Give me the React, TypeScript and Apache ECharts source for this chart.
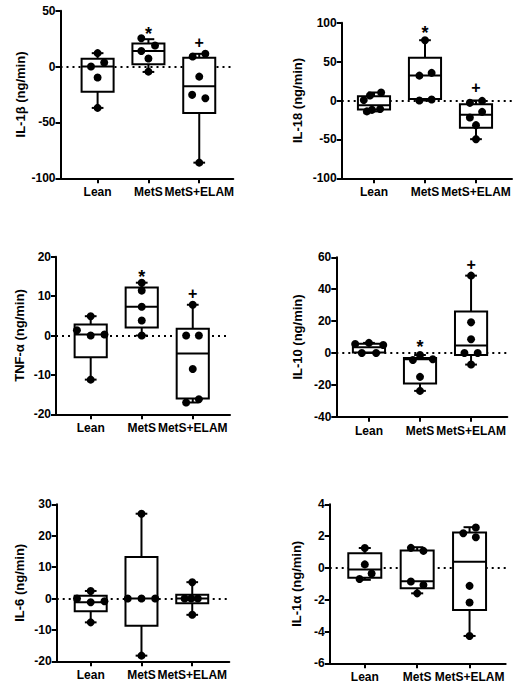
import React, { useEffect, useRef } from "react";
import * as echarts from "echarts";

const categories = ["Lean", "MetS", "MetS+ELAM"];

// box statistics: [group, min, Q1, median, Q3, max]
const il1bBox = [[0, -37, -22.5, 0, 7, 12], [1, -4.8, 2.1, 14, 20.6, 24.5], [2, -86, -41.5, -17.6, 8, 11.4]];
const il18Box = [[0, -14, -11.6, -6, 5.5, 10.3], [1, 0, 2, 32, 55, 77.5], [2, -49.7, -35, -18.3, -4.7, 0]];
const tnfBox = [[0, -11.2, -5.5, 0.25, 2.8, 4.9], [1, 0, 2, 7.3, 12.2, 13.4], [2, -17, -16, -4.6, 1.7, 7.8]];
const il10Box = [[0, 0, 0.3, 3.6, 5.8, 6.3], [1, -23.8, -19.2, -4, -3.1, -1.3], [2, -7.3, -1.3, 4.6, 26, 48.5]];
const il6Box = [[0, -7.6, -4.1, -1.2, 0.85, 2.4], [1, -18.2, -8.7, 0, 13.2, 27], [2, -5.2, -1.5, 0, 1.2, 5.2]];
const il1aBox = [[0, -0.75, -0.62, -0.1, 0.92, 1.25], [1, -1.6, -1.28, -0.84, 1.09, 1.3], [2, -4.28, -2.65, 0.38, 2.22, 2.56]];

// individual points: [group, value, jitter]
const il1bPts = [
  [0, 12, 0], [0, 3.6, 0.13], [0, 0, -0.13], [0, -9.8, 0], [0, -37, 0],
  [1, 25.4, -0.14], [1, 18.8, 0.13], [1, 14, -0.14], [1, 7.2, 0], [1, -4.5, 0],
  [2, 9, -0.13], [2, 11.4, 0.12], [2, -9, 0], [2, -25.3, -0.14], [2, -28.3, 0.12], [2, -86, 0],
];
const il18Pts = [
  [0, 10.3, 0.14], [0, 6.5, -0.08], [0, 0.5, -0.2], [0, -11, 0.12], [0, -12, -0.04], [0, -14, -0.14],
  [1, 77.5, 0], [1, 35.5, 0.13], [1, 32, -0.11], [1, 1.3, 0.13], [1, 0, -0.11],
  [2, -0.5, 0.12], [2, -3, -0.12], [2, -14.6, 0.12], [2, -21.9, -0.12], [2, -31.7, 0], [2, -49.7, 0],
];
const tnfPts = [
  [0, 4.9, 0], [0, 1.35, -0.27], [0, 0, 0], [0, 0.25, 0.27], [0, -11.2, 0],
  [1, 13.4, 0], [1, 11.4, 0], [1, 7.3, 0], [1, 3.8, 0], [1, 0, 0],
  [2, 7.8, 0], [2, 0, -0.13], [2, 0, 0.12], [2, -8.5, 0], [2, -17, -0.13], [2, -16.2, 0.12],
];
const il10Pts = [
  [0, 5.6, -0.27], [0, 6.3, 0], [0, 5, 0.28], [0, 0, -0.14], [0, 0, 0.14],
  [1, -1.3, 0], [1, -4.4, -0.14], [1, -4, 0.25], [1, -15, 0], [1, -23.8, 0],
  [2, 48.5, 0], [2, 19.2, 0], [2, 8.6, 0], [2, 0, -0.13], [2, 0, 0.13], [2, -7.3, 0],
];
const il6Pts = [
  [0, 2.4, 0], [0, 0, -0.27], [0, -1.2, 0], [0, -0.85, 0.27], [0, -7.6, 0],
  [1, 27, 0], [1, 0, -0.27], [1, 0, 0], [1, 0, 0.27], [1, -18.2, 0],
  [2, 5.2, 0], [2, 0, -0.15], [2, 0, -0.02], [2, 0, 0.11], [2, -5.2, 0],
];
const il1aPts = [
  [0, 1.25, 0], [0, 0.22, 0], [0, -0.35, 0.13], [0, -0.7, -0.1],
  [1, 1.26, -0.12], [1, 1.07, 0.12], [1, -0.86, -0.12], [1, -1.07, 0.12], [1, -1.6, 0],
  [2, 2.18, -0.12], [2, 2.54, 0.12], [2, 1.93, 0.12], [2, -1.13, 0], [2, -2.18, 0], [2, -4.28, 0],
];

// significance markers: [group, value at glyph centre, symbol]
const il1bSig = [[1, 33, "*"], [2, 21.5, "+"]];
const il18Sig = [[1, 92.5, "*"], [2, 16.7, "+"]];
const tnfSig = [[1, 15.9, "*"], [2, 10.7, "+"]];
const il10Sig = [[1, 6.7, "*"], [2, 55.6, "+"]];
const il6Sig: any[] = [];
const il1aSig: any[] = [];

const yTitles = ["IL-1β (ng/min)", "IL-18 (ng/min)", "TNF-α (ng/min)", "IL-10 (ng/min)", "IL-6 (ng/min)", "IL-1α (ng/min)"];
const yRanges = [[-100, 50, 50], [-100, 100, 50], [-20, 20, 10], [-40, 60, 20], [-20, 30, 10], [-6, 4, 2]];

// layout (pixels) and x-extent per panel
const layouts = [
  { left: 60.5, top: 10.7, width: 172.8, height: 167.6, xMin: -0.73, xMax: 2.67, gap: 34 },
  { left: 341.7, top: 22.7, width: 170.3, height: 155.6, xMin: -0.633, xMax: 2.706, gap: 37.5 },
  { left: 56, top: 256.7, width: 174, height: 157.6, xMin: -0.68, xMax: 2.73, gap: 30.5 },
  { left: 336.3, top: 257.3, width: 171, height: 159.4, xMin: -0.64, xMax: 2.71, gap: 32.5 },
  { left: 56.7, top: 504.3, width: 172.6, height: 157, xMin: -0.67, xMax: 2.73, gap: 30.5 },
  { left: 329.7, top: 504.3, width: 176, height: 159, xMin: -0.67, xMax: 2.69, gap: 26.5 },
];

const boxes = [il1bBox, il18Box, tnfBox, il10Box, il6Box, il1aBox];
const points = [il1bPts, il18Pts, tnfPts, il10Pts, il6Pts, il1aPts];
const sigs = [il1bSig, il18Sig, tnfSig, il10Sig, il6Sig, il1aSig];

const FONT = "'Liberation Sans', Arial, sans-serif";

function buildOption() {
  const grid: any[] = [];
  const xAxis: any[] = [];
  const yAxis: any[] = [];
  const series: any[] = [];
  layouts.forEach((L, i) => {
    grid.push({ left: L.left, top: L.top, width: L.width, height: L.height, containLabel: false });
    xAxis.push({
      type: "value", gridIndex: i, min: L.xMin, max: L.xMax,
      axisLine: { show: true, onZero: false, lineStyle: { color: "#000", width: 2 } },
      axisTick: { show: true, customValues: [0, 1, 2], length: 5, inside: false, lineStyle: { color: "#000", width: 2 } },
      axisLabel: {
        show: true, customValues: [0, 1, 2], margin: 8,
        formatter: (v: number) => categories[Math.round(v)] ?? "",
        color: "#000", fontWeight: "bold", fontSize: 12, fontFamily: FONT,
      },
      splitLine: { show: false },
    });
    const [mn, mx, iv] = yRanges[i];
    yAxis.push({
      type: "value", gridIndex: i, min: mn, max: mx, interval: iv,
      name: yTitles[i], nameLocation: "middle", nameGap: L.gap,
      nameTextStyle: { color: "#000", fontWeight: "bold", fontSize: 13, fontFamily: FONT },
      axisLine: { show: true, onZero: false, lineStyle: { color: "#000", width: 2 } },
      axisTick: { show: true, length: 5, inside: false, lineStyle: { color: "#000", width: 2 } },
      axisLabel: { color: "#000", fontWeight: "bold", fontSize: 12, fontFamily: FONT, margin: 5 },
      splitLine: { show: false },
    });
    series.push({
      type: "custom", xAxisIndex: i, yAxisIndex: i, z: 2,
      data: boxes[i],
      encode: { x: 0, y: [1, 2, 3, 4, 5] },
      renderItem: (_p: any, api: any) => {
        const g = api.value(0);
        const yMin = api.coord([g, api.value(1)])[1];
        const yQ1 = api.coord([g, api.value(2)])[1];
        const c = api.coord([g, api.value(3)]);
        const yQ3 = api.coord([g, api.value(4)])[1];
        const yMax = api.coord([g, api.value(5)])[1];
        const x = c[0];
        const bw = api.size([0.63, 0])[0];
        const cw = api.size([0.23, 0])[0];
        const ls = { stroke: "#000", lineWidth: 2 };
        return {
          type: "group",
          children: [
            { type: "line", shape: { x1: x, y1: yQ3, x2: x, y2: yMax }, style: ls },
            { type: "line", shape: { x1: x, y1: yQ1, x2: x, y2: yMin }, style: ls },
            { type: "line", shape: { x1: x - cw / 2, y1: yMax, x2: x + cw / 2, y2: yMax }, style: ls },
            { type: "line", shape: { x1: x - cw / 2, y1: yMin, x2: x + cw / 2, y2: yMin }, style: ls },
            { type: "rect", shape: { x: x - bw / 2, y: yQ3, width: bw, height: yQ1 - yQ3 }, style: { fill: "#fff", stroke: "#000", lineWidth: 2 } },
            { type: "line", shape: { x1: x - bw / 2, y1: c[1], x2: x + bw / 2, y2: c[1] }, style: ls },
          ],
        };
      },
      markLine: {
        silent: true, symbol: "none", z: 1, animation: false,
        label: { show: false },
        lineStyle: { color: "#000", type: [2, 4], width: 2 },
        data: [{ yAxis: 0 }],
      },
    });
    series.push({
      type: "scatter", xAxisIndex: i, yAxisIndex: i, z: 3,
      symbol: "circle", symbolSize: 8,
      itemStyle: { color: "#000", opacity: 1 },
      data: points[i].map((p: number[]) => [p[0] + p[2], p[1]]),
    });
    const sg = sigs[i];
    if (sg.length) {
      series.push({
        type: "custom", xAxisIndex: i, yAxisIndex: i, z: 4,
        data: sg.map((s: any[]) => [s[0], s[1]]),
        renderItem: (p: any, api: any) => {
          const pt = api.coord([api.value(0), api.value(1)]);
          const t = sg[p.dataIndex][2];
          const fs = t === "*" ? 18 : 16;
          return {
            type: "text", x: pt[0], y: pt[1] + (t === "*" ? 0.24 * fs : 0),
            style: { text: t, fill: "#000", font: `bold ${fs}px ${FONT}`, align: "center", verticalAlign: "middle" },
          };
        },
      });
    }
  });
  return { animation: false, backgroundColor: "#fff", grid, xAxis, yAxis, series };
}

export default function App() {
  const ref = useRef<HTMLDivElement>(null);
  useEffect(() => {
    if (!ref.current) return;
    const chart = echarts.init(ref.current, undefined, { renderer: "svg" });
    chart.setOption(buildOption() as any);
    return () => chart.dispose();
  }, []);
  return <div ref={ref} style={{ position: "absolute", left: 0, top: 0, width: 518, height: 691, background: "#fff" }} />;
}
